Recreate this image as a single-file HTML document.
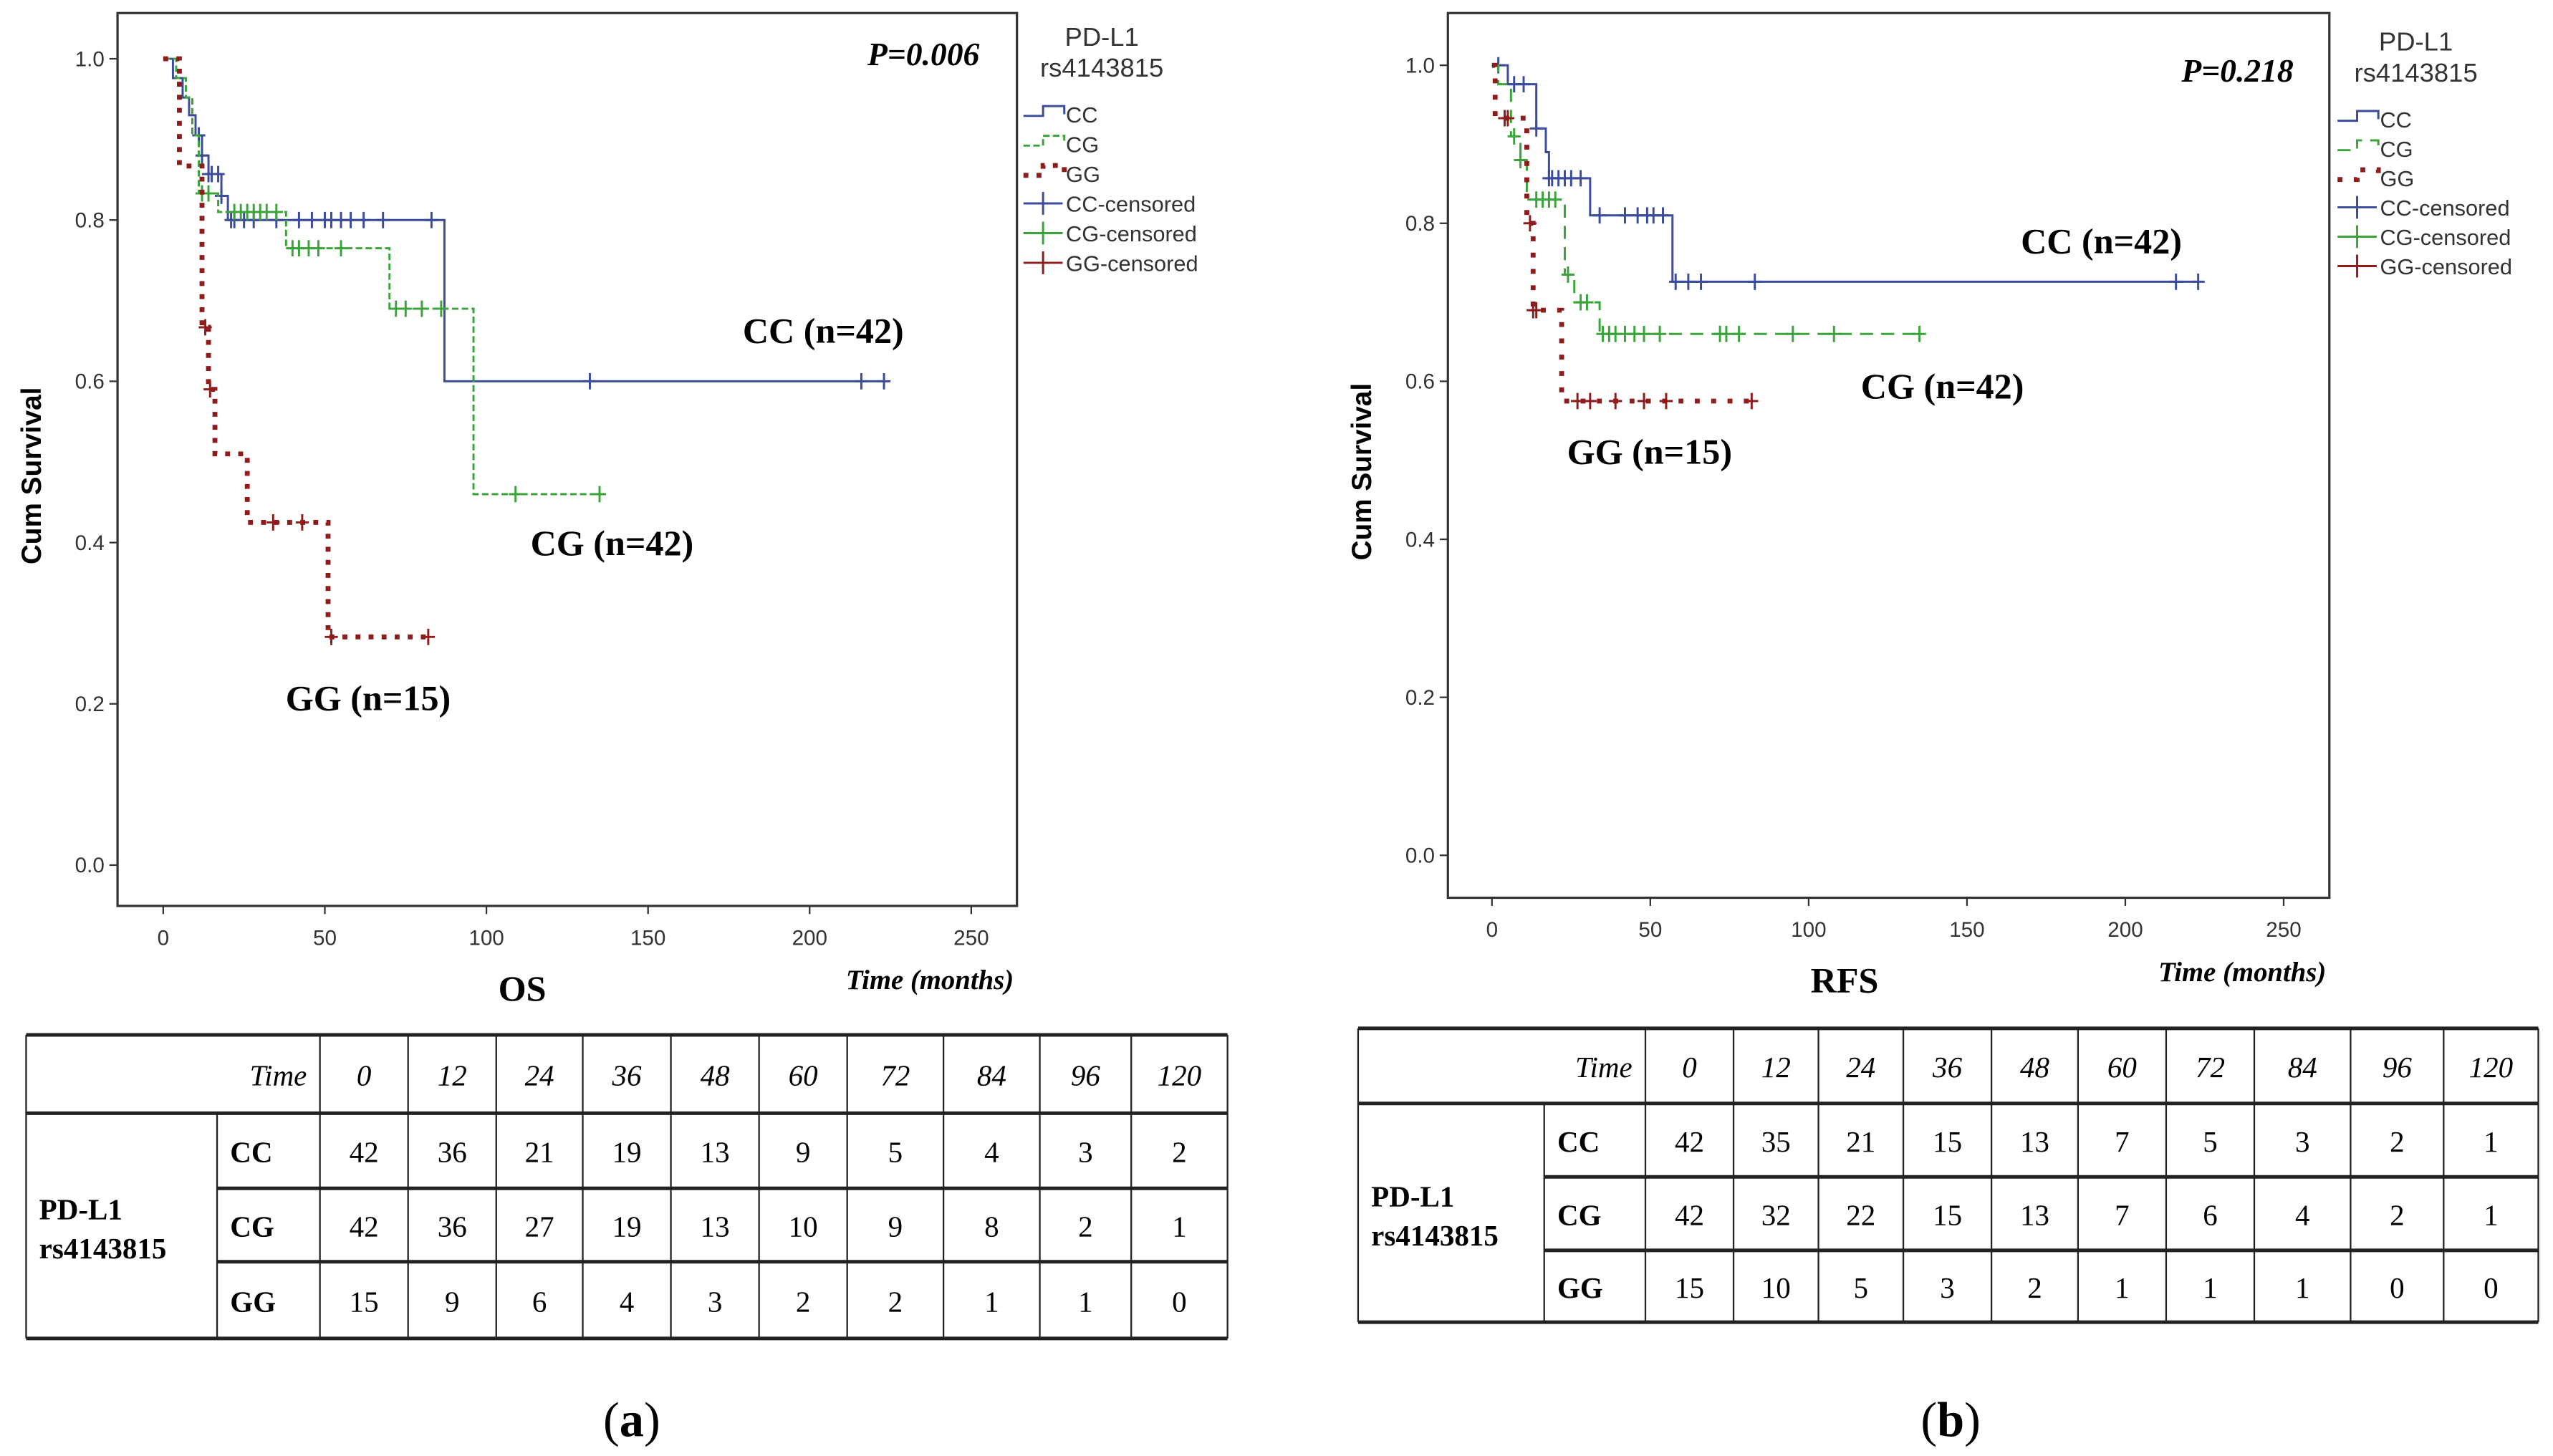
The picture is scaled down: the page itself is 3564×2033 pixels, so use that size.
<!DOCTYPE html>
<html><head><meta charset="utf-8">
<style>
html,body{margin:0;padding:0;background:#fff;}
svg{display:block;}
.ser{font-family:"Liberation Serif",serif;}
.sans{font-family:"Liberation Sans",sans-serif;}
</style></head>
<body>
<svg id="root" width="3564" height="2033" viewBox="0 0 1564 892" preserveAspectRatio="none" xmlns="http://www.w3.org/2000/svg">
<rect width="1564" height="892" fill="#fff"/>
<g id="pa"></g>
<g id="pb"></g>
<g id="ta"></g>
<g id="tb"></g>
<text class="ser" x="387" y="880" font-size="30" text-anchor="middle">(<tspan font-weight="bold">a</tspan>)</text>
<text class="ser" x="1195" y="880" font-size="30" text-anchor="middle">(<tspan font-weight="bold">b</tspan>)</text>
</svg>
<script>
// ---------- DATA ----------
const xTicks = [0, 50, 100, 150, 200, 250];
const yTicks = [0.0, 0.2, 0.4, 0.6, 0.8, 1.0];
// Panel a (OS): event times and survival after each event
const osCCTimes = [0, 3, 6, 8, 10, 12, 14, 18, 20, 87];
const osCCSurv  = [1.0, 0.976, 0.952, 0.93, 0.905, 0.88, 0.857, 0.83, 0.80, 0.60];
const osCCCens  = [11, 12, 14, 15, 17, 18, 21, 22, 25, 28, 35, 42, 46, 50, 52, 55, 58, 62, 68, 83, 132, 216, 223];
const osCGTimes = [0, 4, 7, 9, 11, 17, 38, 70, 96];
const osCGSurv  = [1.0, 0.976, 0.952, 0.905, 0.833, 0.81, 0.765, 0.69, 0.46];
const osCGCens  = [12, 14, 22, 24, 26, 28, 30, 32, 35, 40, 42, 45, 48, 55, 72, 75, 80, 86, 109, 135];
const osGGTimes = [0, 5, 12, 14, 16, 26, 51];
const osGGSurv  = [1.0, 0.867, 0.667, 0.59, 0.51, 0.425, 0.283];
const osGGCens  = [13, 14.5, 34, 43, 52, 82];
// Panel b (RFS)
const rfsCCTimes = [0, 5, 14, 17, 18, 31, 57];
const rfsCCSurv  = [1.0, 0.976, 0.92, 0.89, 0.857, 0.81, 0.726];
const rfsCCCens  = [2, 7, 10, 14, 18, 19, 21, 23, 25, 28, 34, 42, 46, 49, 51, 54, 58, 62, 66, 83, 216, 223];
const rfsCGTimes = [0, 2, 6, 9, 11, 23, 26, 34];
const rfsCGSurv  = [1.0, 0.976, 0.91, 0.88, 0.83, 0.735, 0.70, 0.66];
const rfsCGCens  = [7, 9, 14, 16, 18, 20, 24, 28, 30, 35, 37, 39, 42, 45, 48, 53, 72, 74, 78, 95, 108, 135];
const rfsGGTimes = [0, 1, 11, 13, 22];
const rfsGGSurv  = [1.0, 0.933, 0.8, 0.69, 0.575];
const rfsGGCens  = [4, 5, 12, 13, 14, 27, 31, 39, 48, 55, 82];
// Risk tables
const riskTimes = ["0","12","24","36","48","60","72","84","96","120"];
const riskGroups = ["CC","CG","GG"];
const osRiskCC = [42,36,21,19,13,9,5,4,3,2];
const osRiskCG = [42,36,27,19,13,10,9,8,2,1];
const osRiskGG = [15,9,6,4,3,2,2,1,1,0];
const rfsRiskCC = [42,35,21,15,13,7,5,3,2,1];
const rfsRiskCG = [42,32,22,15,13,7,6,4,2,1];
const rfsRiskGG = [15,10,5,3,2,1,1,1,0,0];
const legendItems = ["CC","CG","GG","CC-censored","CG-censored","GG-censored"];

const NS = "http://www.w3.org/2000/svg";
function mk(tag, attrs, parent, txt){
  const e = document.createElementNS(NS, tag);
  for (const k in attrs) e.setAttribute(k, attrs[k]);
  if (txt !== undefined) e.textContent = txt;
  parent.appendChild(e); return e;
}
const COL = {CC:"#3c4c9c", CG:"#3aa43a", GG:"#8e1c1c"};

function survAt(times, surv, t){ let s = surv[0]; for (let i=0;i<times.length;i++){ if (times[i] <= t) s = surv[i]; } return s; }

function drawPanel(g, cfg){
  const X = t => cfg.x0 + t * cfg.xs;
  const Y = s => cfg.y0 - s * cfg.ys;
  const box = mk("rect", {x:cfg.bx0, y:cfg.by0, width:cfg.bx1-cfg.bx0, height:cfg.by1-cfg.by0, fill:"none", stroke:"#333", "stroke-width":1.4}, g);
  
  
  yTicks.forEach(v => {
    const l = mk("line", {x1:cfg.bx0-5, x2:cfg.bx0, y1:Y(v), y2:Y(v), stroke:"#333", "stroke-width":1}, g);
    
    
    const t = mk("text", {x:cfg.bx0-8, y:Y(v)+4.5, "font-size":13, "text-anchor":"end", fill:"#333", class:"sans"}, g, v.toFixed(1));
    
    
  });
  xTicks.forEach(v => {
    const l = mk("line", {x1:X(v), x2:X(v), y1:cfg.by1, y2:cfg.by1+5, stroke:"#333", "stroke-width":1}, g);
    
    
    const t = mk("text", {x:X(v), y:cfg.by1+24, "font-size":13, "text-anchor":"middle", fill:"#333", class:"sans"}, g, String(v));
    
    
  });
  const yt = mk("text", {x:0, y:0, "font-size":17, "font-weight":"bold", "text-anchor":"middle", class:"sans", transform:`translate(${cfg.bx0-47},${(cfg.by0+cfg.by1)/2+10}) rotate(-90)`}, g, "Cum Survival");
  
  
  cfg.series.forEach(sr => {
    let d = `M${X(0)},${Y(sr.surv[0])}`;
    for (let i=1;i<sr.times.length;i++){ d += ` H${X(sr.times[i])} V${Y(sr.surv[i])}`; }
    d += ` H${X(sr.end)}`;
    const p = mk("path", {d, fill:"none", stroke:COL[sr.name], "stroke-width":sr.w, "stroke-dasharray":sr.dash}, g);
    
    
    sr.cens.forEach(t => {
      const s = survAt(sr.times, sr.surv, t);
      const c = mk("path", {d:`M${X(t)-4},${Y(s)} H${X(t)+4} M${X(t)},${Y(s)-5} V${Y(s)+5}`, stroke:COL[sr.name], "stroke-width":1.3}, g);
      
      
    });
  });
  const lt1 = mk("text", {x:cfg.lx+48, y:cfg.ly-42, "font-size":16, "text-anchor":"middle", fill:"#333", class:"sans"}, g, "PD-L1");
  
  
  const lt2 = mk("text", {x:cfg.lx+48, y:cfg.ly-23, "font-size":16, "text-anchor":"middle", fill:"#333", class:"sans"}, g, "rs4143815");
  
  
  legendItems.forEach((name, i) => {
    const yy = cfg.ly + i*cfg.lgap;
    const key = name.slice(0,2);
    const cen = name.indexOf("censored") > 0;
    let sym;
    if (!cen) {
      const ds = cfg.series.find(s=>s.name===key);
      sym = mk("path", {d:`M${cfg.lx},${yy+1} H${cfg.lx+12} V${yy-5} H${cfg.lx+25} V${yy}`, fill:"none", stroke:COL[key], "stroke-width":ds.w, "stroke-dasharray":ds.dash}, g);
    } else {
      sym = mk("path", {d:`M${cfg.lx},${yy} H${cfg.lx+24} M${cfg.lx+12},${yy-7} V${yy+7}`, stroke:COL[key], "stroke-width":1.3}, g);
    }
    
    
    const t = mk("text", {x:cfg.lx+26, y:yy+5, "font-size":13.5, fill:"#333", class:"sans"}, g, name);
    
    
  });
  const pt = mk("text", {x:cfg.px, y:cfg.py, "font-size":20, "font-weight":"bold", "font-style":"italic", class:"ser", "text-anchor":"end"}, g, cfg.ptext);
  
  
  cfg.labels.forEach(lb => {
    const t = mk("text", {x:lb[1], y:lb[2], "font-size":22, "font-weight":"bold", class:"ser"}, g, lb[0]);
    
    
  });
  const tt = mk("text", {x:cfg.bx0+(cfg.bx1-cfg.bx0)/2 - (cfg.bx1-cfg.bx0)*0.05, y:cfg.by1+58, "font-size":22, "font-weight":"bold", class:"ser", "text-anchor":"middle"}, g, cfg.title);
  
  
  const xt = mk("text", {x:cfg.bx1-2, y:cfg.by1+51, "font-size":17, "font-weight":"bold", "font-style":"italic", class:"ser", "text-anchor":"end"}, g, "Time (months)");
  
  
}

drawPanel(document.getElementById("pa"), {
  bx0:72, bx1:623, by0:8, by1:555, x0:100, xs:99/50, y0:530, ys:494,
  lx:627, ly:70, lgap:18.2, px:600, py:40, ptext:"P=0.006", title:"OS",
  labels:[["CC (n=42)",455,210],["CG (n=42)",325,340],["GG (n=15)",175,435]],
  series:[
    {name:"CC", times:osCCTimes, surv:osCCSurv, cens:osCCCens, end:223, w:1.3, dash:"none"},
    {name:"CG", times:osCGTimes, surv:osCGSurv, cens:osCGCens, end:135, w:1.3, dash:"4 2"},
    {name:"GG", times:osGGTimes, surv:osGGSurv, cens:osGGCens, end:82, w:3, dash:"3 5"}
  ]
});
drawPanel(document.getElementById("pb"), {
  bx0:887, bx1:1427, by0:8, by1:550, x0:914, xs:97/50, y0:524, ys:484,
  lx:1432, ly:73, lgap:18, px:1405, py:50, ptext:"P=0.218", title:"RFS",
  labels:[["CC (n=42)",1238,155],["CG (n=42)",1140,244],["GG (n=15)",960,284]],
  series:[
    {name:"CC", times:rfsCCTimes, surv:rfsCCSurv, cens:rfsCCCens, end:223, w:1.3, dash:"none"},
    {name:"CG", times:rfsCGTimes, surv:rfsCGSurv, cens:rfsCGCens, end:135, w:1.3, dash:"8 5"},
    {name:"GG", times:rfsGGTimes, surv:rfsGGSurv, cens:rfsGGCens, end:82, w:3, dash:"3 7"}
  ]
});

function drawTable(g, t){
  const rows = [t.y0, t.y1, t.y2, t.y3, t.y4];
  const L = (x1,y1,x2,y2,w,name) => { const l = mk("line", {x1,y1,x2,y2,stroke:"#222","stroke-width":w}, g);
    
     };
  L(t.xl, rows[0], t.xr, rows[0], 2.2, 'table-rule');
  L(t.xl, rows[1], t.xr, rows[1], 2.2, 'table-rule');
  L(t.xg, rows[2], t.xr, rows[2], 2.2, 'table-rule');
  L(t.xg, rows[3], t.xr, rows[3], 2.2, 'table-rule');
  L(t.xl, rows[4], t.xr, rows[4], 2.2, 'table-rule');
  L(t.xl, rows[0], t.xl, rows[4], 1, 'table-border');
  L(t.xr, rows[0], t.xr, rows[4], 1, 'table-border');
  L(t.xg, rows[1], t.xg, rows[4], 1, 'table-border');
  t.cols.forEach(c => L(c, rows[0], c, rows[4], 1, 'table-column-line'));
  const cx = i => (t.cols[i] + (i+1 < t.cols.length ? t.cols[i+1] : t.xr)) / 2;
  const hy = (rows[0]+rows[1])/2 + 7;
  const th = mk("text", {x:t.cols[0]-8, y:hy, "font-size":18, "font-style":"italic", class:"ser", "text-anchor":"end"}, g, "Time");
  
  
  riskTimes.forEach((v,i) => {
    const e = mk("text", {x:cx(i), y:hy, "font-size":18, "font-style":"italic", class:"ser", "text-anchor":"middle"}, g, v);
    
    
  });
  const gl = mk("text", {x:t.xl+8, y:(rows[1]+rows[4])/2 - 4, "font-size":18, "font-weight":"bold", class:"ser"}, g, "PD-L1");
  
  
  const gl2 = mk("text", {x:t.xl+8, y:(rows[1]+rows[4])/2 + 20, "font-size":18, "font-weight":"bold", class:"ser"}, g, "rs4143815");
  
  
  [t.cc, t.cg, t.gg].forEach((arr, r) => {
    const yy = (rows[r+1]+rows[r+2])/2 + 7;
    const lb = mk("text", {x:t.xg+8, y:yy, "font-size":18, "font-weight":"bold", class:"ser"}, g, riskGroups[r]);
    
    
    arr.forEach((v,i) => {
      const e = mk("text", {x:cx(i), y:yy, "font-size":18, class:"ser", "text-anchor":"middle"}, g, String(v));
      
      
    });
  });
}
drawTable(document.getElementById("ta"), {xl:16, xr:752, xg:133, y0:634, y1:682, y2:728, y3:773, y4:820,
  cols:[196,250,304,357,411,465,519,578,637,693], cc:osRiskCC, cg:osRiskCG, gg:osRiskGG});
drawTable(document.getElementById("tb"), {xl:832, xr:1555, xg:946, y0:630, y1:676, y2:721, y3:766, y4:810,
  cols:[1008,1062,1114,1166,1220,1273,1327,1381,1440,1497], cc:rfsRiskCC, cg:rfsRiskCG, gg:rfsRiskGG});
</script>
</body></html>
